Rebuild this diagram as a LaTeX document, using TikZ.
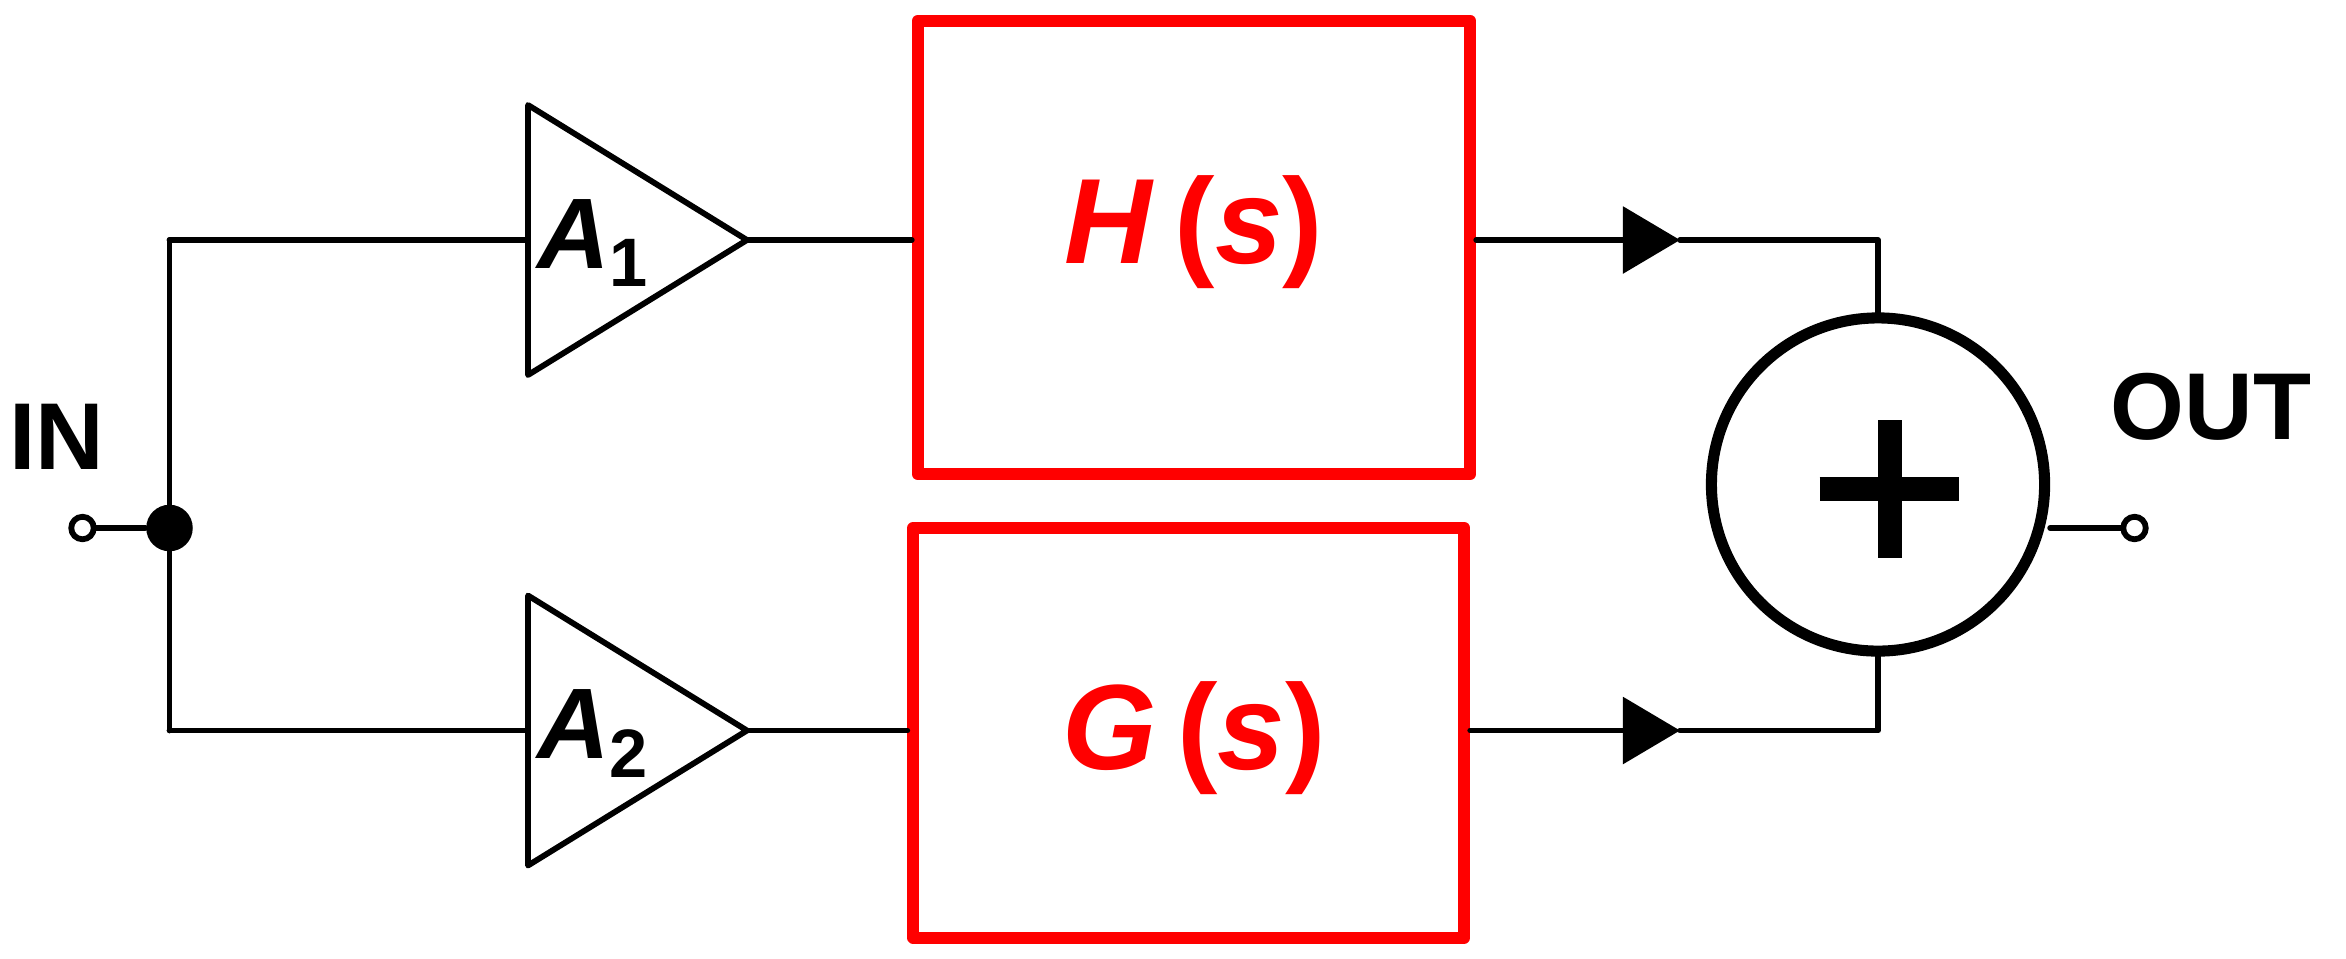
\documentclass[tikz,border=0pt]{standalone}
\usepackage{fontspec}
\setmainfont{Liberation Sans}
\usetikzlibrary{arrows.meta}
\begin{document}
\begin{tikzpicture}[x=0.01cm,y=-0.01cm,
  wire/.style={line width=1.1pt,line cap=round,line join=round},
  redbox/.style={draw=red,line width=2.3pt,line join=round},
  amp/.style={wire},
  lbl/.style={font=\fontsize{18}{20}\selectfont\bfseries},
  tf/.style={font=\fontsize{23}{25}\selectfont\bfseries,text=red},
  arr/.style={wire,-{Triangle[length=0.38cm,width=0.44cm]}}]
\useasboundingbox (0,0) rectangle (1564,639);
% input
\node[lbl] (in) at (38,291) {IN};
\node[lbl] (out) at (1474,271) {OUT};
\node[circle,draw,line width=1.1pt,inner sep=0pt,minimum size=0.15cm,fill=white] (tin) at (55,352) {};
\node[circle,fill,inner sep=0pt,minimum size=0.31cm] (dot) at (113,352) {};
\coordinate (ct) at (113,160);
\coordinate (cb) at (113,487);
\draw[wire] (tin) -- (dot);
\draw[wire] (ct) -- (cb);
% amplifiers
\coordinate (a1in) at (352,160);
\coordinate (a1out) at (498,160);
\coordinate (a2in) at (352,487);
\coordinate (a2out) at (498,487);
\draw[amp] (352,70) -- (a1out) -- (352,250) -- cycle;
\draw[amp] (352,397) -- (a2out) -- (352,577) -- cycle;
\node[font=\fontsize{19}{20}\selectfont\bfseries\itshape] (A1) at (395,162) {A\raisebox{-0.35ex}{\fontsize{13}{14}\selectfont\upshape 1}};
\node[font=\fontsize{19}{20}\selectfont\bfseries\itshape] (A2) at (395,489) {A\raisebox{-0.35ex}{\fontsize{13}{14}\selectfont\upshape 2}};
\draw[wire] (ct) -- (a1in);
\draw[wire] (cb) -- (a2in);
% boxes
\node[redbox,minimum width=3.68cm,minimum height=3.02cm,inner sep=0pt] (H) at (796,165) {};
\node[redbox,minimum width=3.67cm,minimum height=2.73cm,inner sep=0pt] (G) at (792.5,488.5) {};
\node[tf] at (796,155) {\textit{H}\,(\textit{s})};
\node[tf] at (796,492) {\textit{G}\,(\textit{s})};
\draw[wire] (a1out) -- (H.west |- a1out);
\draw[wire] (a2out) -- (G.west |- a2out);
% sum
\node[circle,draw,line width=2.1pt,minimum size=2.22cm,inner sep=0pt] (sum) at (1252,323) {};
\draw[line width=4.5pt] (1213,326) -- (1306,326) (1260,280) -- (1260,372);
\coordinate (t1) at (1120,160);
\coordinate (t2) at (1120,487);
\coordinate (k1) at (1252,160);
\coordinate (k2) at (1252,487);
\draw[arr] (H.east |- t1) -- (t1);
\draw[wire] (t1) -- (k1) -- (sum.north);
\draw[arr] (G.east |- t2) -- (t2);
\draw[wire] (t2) -- (k2) -- (sum.south);
\node[circle,draw,line width=1.1pt,inner sep=0pt,minimum size=0.15cm] (tout) at (1423,352) {};
\draw[wire] (sum.east |- tout) -- (tout);
\end{tikzpicture}
\end{document}
